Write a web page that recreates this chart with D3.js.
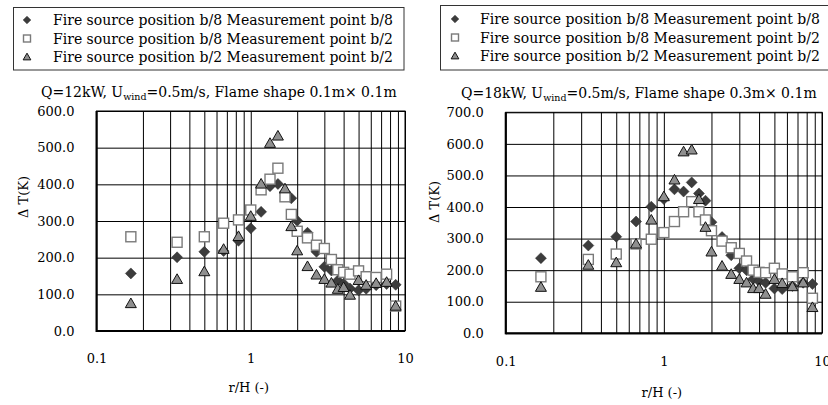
<!DOCTYPE html>
<html><head><meta charset="utf-8">
<script src="https://cdn.jsdelivr.net/npm/d3@7"></script>
<style>
body{margin:0;background:#fff;}
svg{display:block;font-family:"DejaVu Serif",serif;}
</style></head>
<body><svg id="c" width="828" height="405"></svg>
<script>
// r/H values (shared x)
const rH = [0.167, 0.333, 0.5, 0.667, 0.833, 1.0, 1.167, 1.333, 1.5, 1.667, 1.833, 2.0, 2.333, 2.667, 3.0, 3.333, 3.667, 4.0, 4.4, 5.0, 5.6, 6.5, 7.6, 8.7];
const seriesNames = ["Fire source position b/8 Measurement point b/8","Fire source position b/8 Measurement point b/2","Fire source position b/2 Measurement point b/2"];
// Left panel: Q=12kW, flame 0.1m x 0.1m
const left_b8b8 = [157, 201, 216, 218, 246, 280, 325, 395, 401, 375, 362, 301, 268, 216, 175, 165, 138, 129, 116, 111, 115, 125, 128, 126];
const left_b8b2 = [257, 242, 257, 294, 303, 330, 385, 414, 444, 366, 318, 272, 254, 234, 225, 195, 167, 160, 155, 164, 148, 146, 155, 68];
const left_b2b2 = [75, 141, 162, 223, 258, 313, 401, 512, 532, 388, 285, 219, 176, 153, 141, 131, 114, 119, 98, 138, 125, 130, 133, 68];
// Right panel: Q=18kW, flame 0.3m x 0.1m
const right_b8b8 = [238, 278, 306, 354, 401, 425, 456, 449, 478, 443, 420, 352, 305, 247, 206, 200, 172, 165, 160, 142, 140, 150, 160, 156];
const right_b8b2 = [179, 234, 251, 283, 298, 319, 354, 385, 417, 385, 359, 325, 292, 271, 253, 229, 200, 193, 192, 206, 188, 179, 192, 111];
const right_b2b2 = [146, 216, 224, 283, 359, 433, 486, 575, 581, 424, 336, 258, 213, 187, 171, 160, 142, 142, 124, 171, 158, 148, 160, 82];
const leftYTicks = [0, 100, 200, 300, 400, 500, 600];
const rightYTicks = [0, 100, 200, 300, 400, 500, 600, 700];
const xTickLabels = [0.1, 1, 10];

const svg = d3.select("#c");

function marker(g, type, x, y, s) {
  if (type === 0) {
    const h = s * 0.55;
    g.append("path").attr("d", `M${x},${y-h}L${x+h},${y}L${x},${y+h}L${x-h},${y}Z`)
      .attr("fill", "#3c3c3c").attr("stroke", "#2a2a2a").attr("stroke-width", 0.5);
  } else if (type === 1) {
    const h = s * 0.5;
    g.append("rect").attr("x", x-h).attr("y", y-h).attr("width", 2*h).attr("height", 2*h)
      .attr("fill", "#fff").attr("stroke", "#7a7a7a").attr("stroke-width", 1.4);
  } else {
    const h = s * 0.55;
    g.append("path").attr("d", `M${x},${y-h}L${x+h},${y+h*0.75}L${x-h},${y+h*0.75}Z`)
      .attr("fill", "#8f8f8f").attr("stroke", "#111").attr("stroke-width", 1);
  }
}

function panel(cfg) {
  const g = svg.append("g");
  const x = d3.scaleLog().domain([0.1, 10]).range([cfg.x0, cfg.x1]);
  const y = d3.scaleLinear().domain([0, cfg.ymax]).range([cfg.y1, cfg.y0]);
  // vertical grid
  g.append("g").attr("transform", `translate(0,${cfg.y1})`)
    .call(d3.axisBottom(x).tickSize(-(cfg.y1 - cfg.y0)).tickFormat(""))
    .call(a => a.select(".domain").remove())
    .call(a => a.selectAll("line").attr("stroke", "#000").attr("stroke-width", 1));
  // horizontal grid
  g.append("g").attr("transform", `translate(${cfg.x0},0)`)
    .call(d3.axisLeft(y).tickValues(cfg.yTicks).tickSize(-(cfg.x1 - cfg.x0)).tickFormat(""))
    .call(a => a.select(".domain").remove())
    .call(a => a.selectAll("line").attr("stroke", "#000").attr("stroke-width", 1));
  // frame
  g.append("rect").attr("x", cfg.x0).attr("y", cfg.y0).attr("width", cfg.x1 - cfg.x0).attr("height", cfg.y1 - cfg.y0)
    .attr("fill", "none").attr("stroke", "#000").attr("stroke-width", 1);
  g.append("line").attr("x1", cfg.x0).attr("x2", cfg.x0).attr("y1", cfg.y0).attr("y2", cfg.y1 + 1).attr("stroke", "#000").attr("stroke-width", 2);
  g.append("line").attr("x1", cfg.x0).attr("x2", cfg.x1).attr("y1", cfg.y1).attr("y2", cfg.y1).attr("stroke", "#000").attr("stroke-width", 2);
  // y tick labels
  g.append("g").attr("transform", `translate(${cfg.x0 - 19},0)`)
    .call(d3.axisLeft(y).tickValues(cfg.yTicks).tickSize(0).tickFormat(d3.format(".1f")))
    .call(a => a.select(".domain").remove())
    .call(a => a.selectAll("text").attr("font-family", "DejaVu Serif").attr("font-size", 13).attr("fill", "#000"));
  // x tick labels
  g.append("g").attr("transform", `translate(0,${cfg.xLabY})`)
    .call(d3.axisBottom(x).tickValues(xTickLabels).tickSize(0).tickFormat(d => String(d)))
    .call(a => a.select(".domain").remove())
    .call(a => a.selectAll("text").attr("font-family", "DejaVu Serif").attr("font-size", 13).attr("fill", "#000").attr("dy", 0).attr("y", 0));
  // axis titles
  g.append("text").attr("x", (cfg.x0 + cfg.x1) / 2 - 2).attr("y", cfg.xTitleY).attr("text-anchor", "middle")
    .attr("font-size", 13).text("r/H (-)");
  g.append("text").attr("transform", `translate(${cfg.yTitleX},${cfg.yTitleY}) rotate(-90)`).attr("text-anchor", "middle")
    .attr("font-size", 13).text("Δ T(K)");
  // title
  const t = g.append("text").attr("x", cfg.titleX).attr("y", cfg.titleY).attr("font-size", 14);
  t.append("tspan").text(cfg.q + ", U");
  t.append("tspan").attr("font-size", 9.5).attr("dy", 3).text("wind");
  t.append("tspan").attr("dy", -3).text("=0.5m/s, Flame shape " + cfg.flame);
  // data
  const clip = "clip" + cfg.id;
  svg.append("clipPath").attr("id", clip).append("rect")
    .attr("x", cfg.x0 - 8).attr("y", cfg.y0 - 8).attr("width", cfg.x1 - cfg.x0 + 16).attr("height", cfg.y1 - cfg.y0 + 16);
  const m = g.append("g").attr("clip-path", `url(#${clip})`);
  cfg.series.forEach((vals, si) => {
    vals.forEach((v, i) => marker(m, si, x(rH[i]), y(v), 10));
  });
  // legend
  const L = cfg.legend;
  g.append("rect").attr("x", L.x).attr("y", L.y).attr("width", L.w).attr("height", L.h)
    .attr("fill", "#fff").attr("stroke", "#333").attr("stroke-width", 1);
  seriesNames.forEach((n, i) => {
    const cy = L.rowY[i];
    marker(g, i, L.mx, cy, 7);
    g.append("text").attr("x", L.tx).attr("y", cy + 5).attr("font-size", 14).text(n);
  });
}

panel({id: "L", x0: 96.5, x1: 405, y0: 111, y1: 331, ymax: 600, yTicks: leftYTicks,
  xLabY: 363, xTitleY: 392, yTitleX: 28, yTitleY: 197, titleX: 41, titleY: 97,
  q: "Q=12kW", flame: "0.1m× 0.1m",
  series: [left_b8b8, left_b8b2, left_b2b2],
  legend: {x: 13.5, y: 7.5, w: 390.5, h: 62.5, mx: 27, tx: 53, rowY: [20, 38.5, 57]}});
panel({id: "R", x0: 505.7, x1: 822, y0: 112.3, y1: 333.3, ymax: 700, yTicks: rightYTicks,
  xLabY: 366, xTitleY: 397, yTitleX: 439, yTitleY: 202, titleX: 461, titleY: 98,
  q: "Q=18kW", flame: "0.3m× 0.1m",
  series: [right_b8b8, right_b8b2, right_b2b2],
  legend: {x: 440.5, y: 5.5, w: 395, h: 64.5, mx: 455, tx: 480, rowY: [19, 37.5, 56]}});
</script></body></html>
